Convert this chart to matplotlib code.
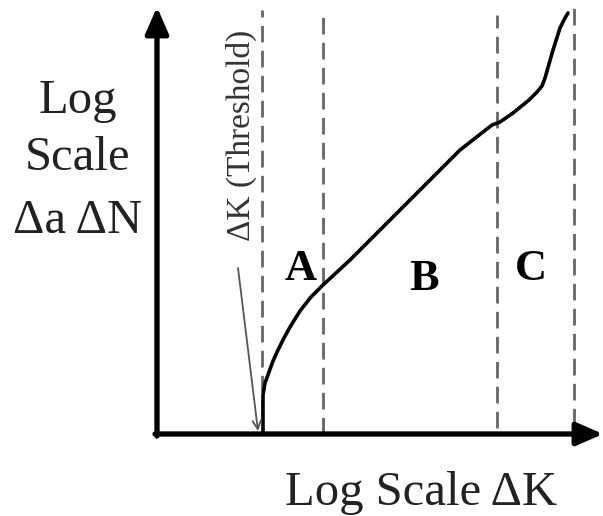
import matplotlib
matplotlib.use("Agg")
import matplotlib.pyplot as plt

plt.rcParams["font.family"] = ["Liberation Serif", "DejaVu Serif"]

# schematic crack growth curve, in axis units (origin at the axes corner)
curve_x = [106, 106, 108, 112, 116, 121, 127, 133, 143, 154, 166, 193, 253, 303, 335, 343,
           356, 372, 380, 385, 388, 392, 396, 403, 408, 411]
curve_y = [2, 39, 51, 62, 73, 84, 96, 107, 123, 137, 149, 174, 234, 284, 309, 312,
           321, 334, 342, 348, 356, 370, 384, 406, 416, 421]

# region boundaries (dashed)
bound_x = [105, 166, 340, 417]
bound_bottom = [17, 0, 6, 9]
bound_top = [424, 419, 419, 429]

regions = ["A", "B", "C"]
region_x = [144, 267, 374]
region_y = [154, 144, 154]

y_label = ["Log", "Scale", "\u0394a \u0394N"]
y_label_y = [321, 264, 201]
x_label = "Log Scale \u0394K"
threshold_label = "\u0394K (Threshold)"

fig = plt.figure(figsize=(6.03, 5.16), dpi=100)
ax = fig.add_axes([0, 0, 1, 1])
ax.set_xlim(-157, 446)
ax.set_ylim(-82, 434)
ax.axis("off")

for x, y0, y1 in zip(bound_x, bound_bottom, bound_top):
    ln, = ax.plot([x, x], [y0, y1], color="#666666", lw=2)
    ln.set_dashes([6, 3])

ax.plot(curve_x, curve_y, color="black", lw=2.6, solid_joinstyle="round",
        solid_capstyle="round")

# axes with arrow heads
ax.annotate("", xy=(0, 427), xytext=(0, -2),
            arrowprops=dict(arrowstyle="-|>,head_length=1.6,head_width=0.7",
                            lw=3.8, color="black", shrinkA=0, shrinkB=0))
ax.annotate("", xy=(446, 0), xytext=(-2, 0),
            arrowprops=dict(arrowstyle="-|>,head_length=1.6,head_width=0.7",
                            lw=3.8, color="black", shrinkA=0, shrinkB=0))

# threshold pointer
ax.annotate("", xy=(101, 3), xytext=(81, 166),
            arrowprops=dict(arrowstyle="->,head_length=0.6,head_width=0.3",
                            lw=1.3, color="#555555", shrinkA=0, shrinkB=0))
ax.text(84, 299, threshold_label, rotation=90, ha="center", va="center",
        fontsize=24, color="#333333")

for lab, x, y in zip(regions, region_x, region_y):
    ax.text(x, y, lab, ha="center", va="baseline", fontsize=32,
            fontweight="bold", color="black")

for lab, y in zip(y_label, y_label_y):
    ax.text(-79, y, lab, ha="center", va="baseline", fontsize=35, color="#222222")

ax.text(264, -71, x_label, ha="center", va="baseline", fontsize=35, color="#222222")

fig.savefig("out.png", dpi=100)
